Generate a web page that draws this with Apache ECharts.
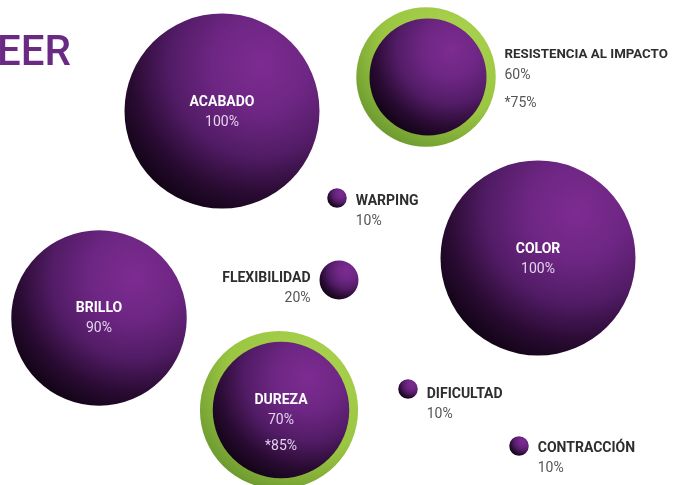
<!DOCTYPE html>
<html>
<head>
<meta charset="utf-8">
<script src="https://cdn.jsdelivr.net/npm/echarts@6/dist/echarts.min.js"></script>
<style>
  html, body { margin: 0; padding: 0; background: #ffffff; }
  #chart { width: 673px; height: 485px; }
</style>
</head>
<body>
<div id="chart"></div>
<script>
// Properties of the material, percentage score of each one
const properties = ['ACABADO', 'RESISTENCIA AL IMPACTO', 'WARPING', 'COLOR', 'FLEXIBILIDAD', 'BRILLO', 'DUREZA', 'DIFICULTAD', 'CONTRACCIÓN'];
const scores = [100, 60, 10, 100, 20, 90, 70, 10, 10];
// Alternative score (marked with *), shown as a green ring
const altScores = [null, 75, null, null, null, null, 85, null, null];
// Layout coordinates of each bubble on the canvas plane
const layoutX = [222, 428, 337, 538, 339, 99, 281, 408, 519];
const layoutY = [111, 77, 198, 258, 280, 318, 410, 389, 446];

const FONT = 'Roboto, "DejaVu Sans", sans-serif';
const SIZE_K = 1.95;   // bubble diameter per percentage point
const RING_K = 1.86;   // ring diameter per percentage point

// Where each label sits relative to its bubble
const labelPlacement = {
  'ACABADO': { side: 'inside', dy: 1 },
  'RESISTENCIA AL IMPACTO': { side: 'right', dy: 6, dist: 18, nameSize: 13.3 },
  'WARPING': { side: 'right', dy: 13, dist: 9 },
  'COLOR': { side: 'inside', dy: 1 },
  'FLEXIBILIDAD': { side: 'left', dy: 8, dist: 9 },
  'BRILLO': { side: 'inside', dy: 0 },
  'DUREZA': { side: 'inside', dy: 16 },
  'DIFICULTAD': { side: 'right', dy: 15, dist: 9 },
  'CONTRACCIÓN': { side: 'right', dy: 12, dist: 9 }
};

const sphereFill = new echarts.graphic.RadialGradient(0.7, 0.26, 0.85, [
  { offset: 0, color: '#7d2c91' },
  { offset: 0.3, color: '#6d2683' },
  { offset: 0.55, color: '#521c66' },
  { offset: 0.78, color: '#2a0b33' },
  { offset: 1, color: '#0c020f' }
]);
const ringFill = new echarts.graphic.RadialGradient(0.68, 0.28, 1.0, [
  { offset: 0, color: '#acd550' },
  { offset: 0.5, color: '#9bc642' },
  { offset: 0.78, color: '#6e9b30' },
  { offset: 1, color: '#4b7721' }
]);

function richStyles(inside, nameSize) {
  const nameColor = inside ? '#ffffff' : '#2e2e2e';
  const valColor = inside ? '#e4d3ec' : '#555555';
  return {
    n: { color: nameColor, fontFamily: FONT, fontSize: nameSize || 14, fontWeight: 'bold', lineHeight: 20 },
    v: { color: valColor, fontFamily: FONT, fontSize: 14, lineHeight: 20 },
    s: { color: valColor, fontFamily: FONT, fontSize: 14, lineHeight: inside ? 32 : 36 }
  };
}

const bubbleData = properties.map((name, i) => {
  const p = labelPlacement[name];
  const inside = p.side === 'inside';
  return {
    name: name,
    value: [layoutX[i], layoutY[i], scores[i]],
    label: {
      show: true,
      position: p.side,
      distance: p.dist || 0,
      offset: [0, p.dy],
      align: inside ? 'center' : (p.side === 'left' ? 'right' : 'left'),
      rich: richStyles(inside, p.nameSize)
    }
  };
});

const ringData = [];
properties.forEach((name, i) => {
  if (altScores[i] != null) {
    ringData.push({ name: name, value: [layoutX[i], layoutY[i], altScores[i]] });
  }
});

const chart = echarts.init(document.getElementById('chart'), null, { renderer: 'canvas' });
chart.setOption({
  backgroundColor: '#ffffff',
  animation: false,
  grid: { left: 0, right: 0, top: 0, bottom: 0 },
  xAxis: { type: 'value', min: 0, max: 673, show: false },
  yAxis: { type: 'value', min: 0, max: 485, inverse: true, show: false },
  graphic: [{
    type: 'text',
    left: -3,
    top: 33,
    style: { text: 'EER', fill: '#6a2a84', font: '500 42px ' + FONT }
  }],
  series: [
    {
      type: 'scatter',
      name: 'alt',
      data: ringData,
      symbol: 'circle',
      symbolSize: v => v[2] * RING_K,
      symbolOffset: [-2, 0],
      itemStyle: { color: ringFill, opacity: 1 },
      emphasis: { disabled: true },
      z: 1
    },
    {
      type: 'scatter',
      name: 'score',
      data: bubbleData,
      symbol: 'circle',
      symbolSize: v => v[2] * SIZE_K,
      itemStyle: { color: sphereFill, opacity: 1 },
      emphasis: { disabled: true },
      label: {
        formatter: params => {
          const i = params.dataIndex;
          let s = '{n|' + properties[i] + '}\n{v|' + scores[i] + '%}';
          if (altScores[i] != null) s += '\n{s|*' + altScores[i] + '%}';
          return s;
        }
      },
      z: 2
    }
  ]
});
</script>
</body>
</html>
